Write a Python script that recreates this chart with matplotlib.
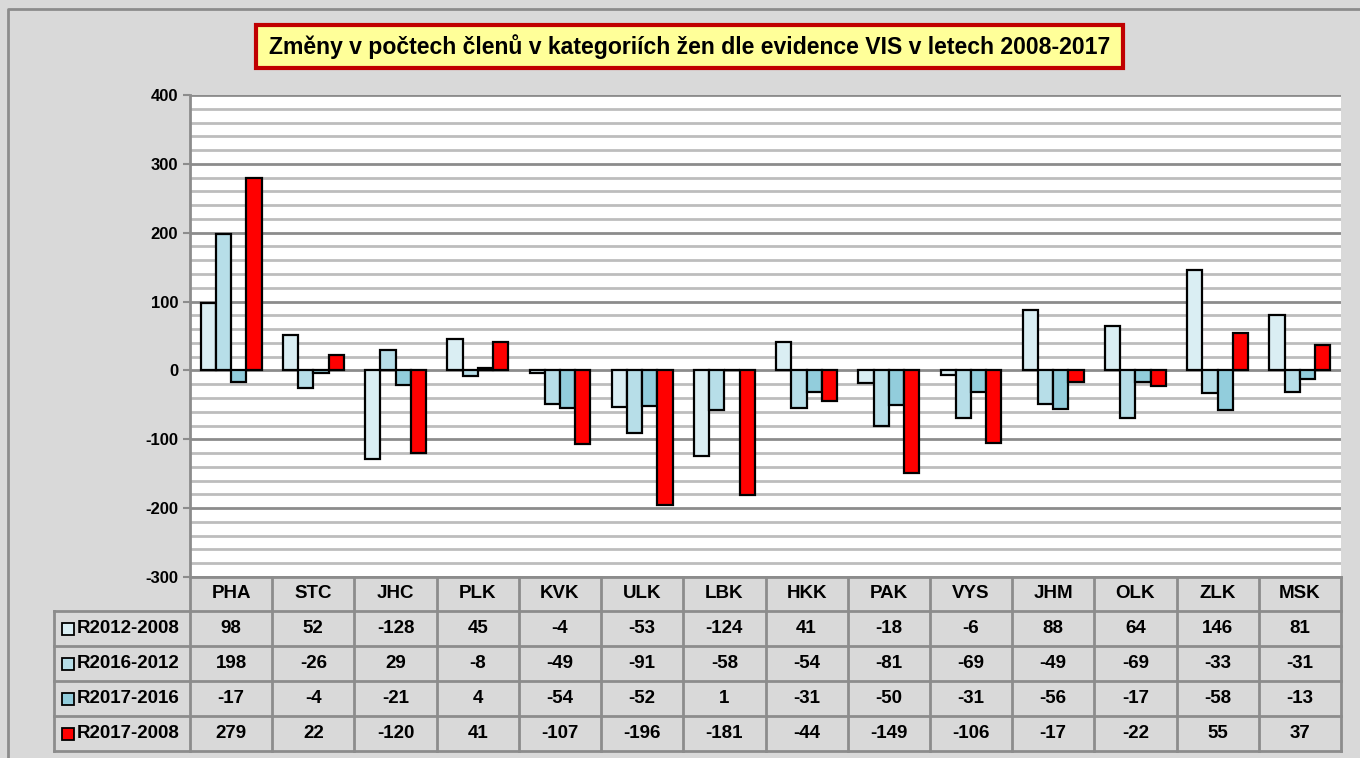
import numpy as np
import matplotlib.pyplot as plt
from matplotlib.patches import Rectangle

plt.rcParams['font.family'] = ['Liberation Sans', 'DejaVu Sans']
plt.rcParams['axes.unicode_minus'] = False

kraje = ["PHA", "STC", "JHC", "PLK", "KVK", "ULK", "LBK", "HKK", "PAK", "VYS", "JHM", "OLK", "ZLK", "MSK"]
serie = ["R2012-2008", "R2016-2012", "R2017-2016", "R2017-2008"]
r2012_2008 = [98, 52, -128, 45, -4, -53, -124, 41, -18, -6, 88, 64, 146, 81]
r2016_2012 = [198, -26, 29, -8, -49, -91, -58, -54, -81, -69, -49, -69, -33, -31]
r2017_2016 = [-17, -4, -21, 4, -54, -52, 1, -31, -50, -31, -56, -17, -58, -13]
r2017_2008 = [279, 22, -120, 41, -107, -196, -181, -44, -149, -106, -17, -22, 55, 37]
hodnoty = [r2012_2008, r2016_2012, r2017_2016, r2017_2008]
barvy = ["#DAEEF3", "#B7DEE8", "#92CDDC", "#FF0000"]
titulek = "Změny v počtech členů v kategoriích žen dle evidence VIS v letech 2008-2017"

W, H = 1360, 758
fig = plt.figure(figsize=(W / 100, H / 100), dpi=100)
fig.patch.set_facecolor("#D9D9D9")

# plot area in pixels
px0, px1, py0, py1 = 190, 1341, 95, 577
ax = fig.add_axes([px0 / W, 1 - py1 / H, (px1 - px0) / W, (py1 - py0) / H])
ax.set_facecolor("white")
ax.set_xlim(-0.5, len(kraje) - 0.5)
ax.set_ylim(-300, 400)

# mrizka
for y in np.arange(-300, 401, 20):
    major = y % 100 == 0
    ax.axhline(y, color="#8C8C8C" if major else "#BDBDBD", lw=2, zorder=1)

x = np.arange(len(kraje))
w = 0.185
for k, (vals, c) in enumerate(zip(hodnoty, barvy)):
    ax.bar(x + (k - 1.5) * w, vals, width=w, color=c, edgecolor="black", lw=1.6, zorder=3)

ax.set_xticks([])
ax.set_yticks(np.arange(-300, 401, 100))
ax.tick_params(axis="y", length=5, color="#8C8C8C", width=1.5, labelsize=12)
for lab in ax.get_yticklabels():
    lab.set_fontweight("bold")
for s in ["top", "right", "bottom"]:
    ax.spines[s].set_visible(False)
ax.spines["left"].set_color("#8C8C8C")
ax.spines["left"].set_linewidth(2)

# overlay v pixelech pro tabulku a titulek
ov = fig.add_axes([0, 0, 1, 1], facecolor="none")
ov.set_xlim(0, W)
ov.set_ylim(H, 0)
ov.axis("off")

ov.plot([8, 8, W], [H, 9, 9], color="#8C8C8C", lw=2)

ov.add_patch(Rectangle((256, 25), 867, 43, fc="#FFFF99", ec="#C00000", lw=3))
ov.text(689.5, 47, titulek, ha="center", va="center", fontsize=16.6, fontweight="bold")

# tabulka
tx0 = 54
cw = (px1 - px0) / len(kraje)
row_y = [577, 611, 646, 681, 716, 751]
lc = "#8C8C8C"
for xi in range(len(kraje) + 1):
    ov.plot([px0 + xi * cw] * 2, [row_y[0], row_y[-1]], color=lc, lw=2)
ov.plot([tx0, tx0], [row_y[1], row_y[-1]], color=lc, lw=2)
ov.plot([px0, px1], [row_y[0]] * 2, color=lc, lw=2)
for yy in row_y[1:]:
    ov.plot([tx0, px1], [yy, yy], color=lc, lw=2)

fs = 13.5
for i, k in enumerate(kraje):
    cx = px0 + (i + 0.5) * cw
    ov.text(cx, (row_y[0] + row_y[1]) / 2, k, ha="center", va="center", fontsize=fs, fontweight="bold")
    for r, vals in enumerate(hodnoty):
        ov.text(cx, (row_y[r + 1] + row_y[r + 2]) / 2, str(vals[i]), ha="center", va="center",
                fontsize=fs, fontweight="bold")

for r, (nazev, c) in enumerate(zip(serie, barvy)):
    cy = (row_y[r + 1] + row_y[r + 2]) / 2
    ov.add_patch(Rectangle((62, cy - 6), 12, 12, fc=c, ec="black", lw=1.3))
    ov.text(77, cy, nazev, ha="left", va="center", fontsize=fs, fontweight="bold")

fig.savefig("out.png", dpi=100, facecolor=fig.get_facecolor())
